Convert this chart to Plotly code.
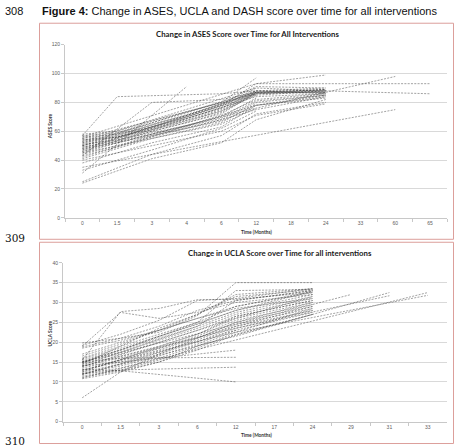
import plotly.graph_objects as go

N = None

# ---------------- data ----------------
ases_categories = ["0", "1.5", "3", "4", "6", "12", "18", "24", "33", "60", "65"]
ases_ticks = [0, 20, 40, 60, 80, 100, 120]
ases_series = [
    [57, 84, N, N, 86, 88, N, N, N, N, N],
    [31, N, N, 91, N, N, N, N, N, N, N],
    [43, N, 80, N, 82, 87, N, N, N, N, N],
    [58, 60, 67, N, 80, 97, N, N, N, N, N],
    [56, N, N, N, N, 93, N, N, N, N, 93],
    [55, 58, 64, N, 78, 93, N, 99, N, N, N],
    [54, 57, 63, 70, 78, 88, N, 90, N, N, N],
    [53, N, N, N, N, 90, N, N, N, N, N],
    [52, 56, 62, 68, 75, 86, N, 89, N, N, N],
    [51, N, N, N, N, 88, N, 88, N, N, 86],
    [50, 55, 61, N, 74, 87, N, 87, N, N, N],
    [49, 54, 60, 66, 73, 86, N, N, N, N, N],
    [48, N, N, N, N, 85, N, 88, N, N, N],
    [47, 53, 60, N, 72, 87, N, 89, N, N, N],
    [46, N, N, N, N, 84, N, 86, N, N, N],
    [45, 52, 58, 64, 70, 83, N, N, N, N, N],
    [44, 50, 57, N, 68, 80, N, 85, N, N, N],
    [42, N, N, N, N, 78, N, 84, N, N, N],
    [41, 48, 55, 60, 65, 76, N, N, N, N, N],
    [40, N, N, N, 60, 71, N, 79, N, N, N],
    [46, N, N, N, N, 76, N, N, N, 98, N],
    [35, N, N, N, N, N, N, N, N, 75, N],
    [25, N, 44, N, 57, 72, N, 80, N, N, N],
    [24, N, 41, N, 52, 68, N, 82, N, N, N],
    [38, 45, 52, N, 63, 78, N, 85, N, N, N],
    [57, 59, 65, 71, 79, 91, N, 90, N, N, N],
    [56, 58, 63, 69, 76, 87, N, 87, N, N, N],
    [55, N, N, N, N, 86, N, 88, N, N, N],
    [54, 56, 61, 67, 74, 85, N, N, N, N, N],
    [53, 56, 62, N, 76, 88, N, 86, N, N, N],
    [52, N, N, N, N, 87, N, 89, N, N, N],
    [51, 54, 59, 64, 71, 82, N, 86, N, N, N],
    [50, N, N, N, N, 86, N, 87, N, N, N],
    [49, 53, 58, N, 69, 81, N, 85, N, N, N],
    [48, 52, 57, 62, 67, 78, N, 83, N, N, N],
    [47, N, N, N, N, 87, N, 88, N, N, N],
    [45, 50, 55, N, 66, 79, N, N, N, N, N],
    [43, 49, 56, 62, 68, 75, N, 84, N, N, N],
    [33, 40, 47, N, 62, 74, N, N, N, N, N],
    [50, 56, 63, N, 77, 90, N, 88, N, N, N],
]

ucla_categories = ["0", "1.5", "3", "6", "12", "17", "24", "29", "31", "33"]
ucla_ticks = [0, 5, 10, 15, 20, 25, 30, 35, 40]
ucla_series = [
    [19.8, 21.0, 22.5, 26.7, 35.0, N, 35.0, N, N, N],
    [15.5, 27.7, 28.5, 30.7, 30.8, N, 32.5, N, N, N],
    [19.2, 22.0, 25.5, 30.5, 31.0, N, 33.5, N, N, N],
    [18.8, 21.0, 24.0, 28.0, 30.5, N, 33.0, N, N, N],
    [18.5, 20.5, 23.0, 26.0, 29.0, N, 32.8, N, N, N],
    [16.5, 19.5, 23.0, 27.0, 31.5, N, 33.2, N, N, N],
    [16.0, 19.0, 22.0, 25.0, 29.0, N, 32.5, N, N, N],
    [15.8, 18.5, 21.5, 24.5, 28.0, N, 32.0, N, N, N],
    [15.5, 18.0, 21.0, 24.0, 27.5, N, 31.5, N, N, N],
    [15.2, 17.5, 20.5, 23.5, 27.0, N, 31.0, N, N, N],
    [15.0, 17.0, 20.0, 23.0, 26.5, N, 30.5, N, N, N],
    [14.8, N, N, N, 28.0, N, 32.8, N, N, N],
    [14.5, 16.5, 19.0, 22.0, 26.0, N, 30.0, N, N, N],
    [14.2, N, N, 24.0, 30.5, N, 33.0, N, N, N],
    [14.0, 16.0, 18.5, 21.5, 25.5, N, 29.5, N, N, N],
    [13.8, N, N, N, 26.0, N, 31.5, N, N, N],
    [13.5, 15.5, 18.0, 21.0, 25.0, N, 29.0, N, N, N],
    [13.0, 15.0, 17.5, 20.5, 24.5, N, 28.5, N, N, N],
    [12.8, N, N, N, 24.0, N, 28.0, N, N, N],
    [12.5, 14.5, 17.0, 20.0, 24.0, N, 29.0, N, N, N],
    [12.2, 14.0, 16.5, 19.5, 23.5, N, 28.0, N, N, N],
    [12.0, 13.5, 16.0, 19.0, 23.0, N, N, N, N, N],
    [11.8, N, N, N, 23.0, N, 27.5, N, N, N],
    [11.5, 13.0, 15.5, 18.5, 22.5, N, 28.5, N, N, N],
    [11.2, 12.8, 15.0, 18.0, 22.0, N, 27.0, N, N, N],
    [11.0, N, N, N, 20.6, N, N, N, N, 32.5],
    [13.0, N, N, N, 22.5, N, N, N, N, 31.8],
    [12.0, N, N, N, 21.5, N, N, N, 32.5, N],
    [14.0, N, N, N, 23.5, N, N, N, 31.7, N],
    [15.0, N, N, N, 24.5, N, N, 32.0, N, N],
    [6.0, 12.5, 17.0, 21.0, 25.0, N, 30.0, N, N, N],
    [13.2, 12.8, N, N, 10.0, N, N, N, N, N],
    [12.0, 13.0, N, N, 13.7, N, N, N, N, N],
    [15.0, 16.0, N, N, 16.2, N, N, N, N, N],
    [14.0, N, N, N, 18.0, N, N, N, N, N],
    [14.5, 19.0, 23.5, 27.0, 32.0, N, 33.5, N, N, N],
    [17.0, 20.0, 23.0, 26.0, 28.5, N, 31.0, N, N, N],
    [12.5, N, N, 22.0, 26.5, N, 30.5, N, N, N],
    [15.0, 18.0, 21.5, 25.0, 33.0, N, 33.3, N, N, N],
    [19.0, 27.5, 26.0, 27.5, 30.0, N, 32.0, N, N, N],
    [10.8, 12.5, 15.0, 19.0, 21.8, N, 27.0, N, N, N],
]

# ---------------- figure ----------------
W, H = 459, 448


def px(x):
    return x / W


def py(y):
    return 1 - y / H


fig = go.Figure()
line_style = dict(color="rgba(55,55,55,0.62)", width=0.75, dash="2px,1.3px")

for s in ases_series:
    fig.add_trace(go.Scatter(x=ases_categories, y=s, mode="lines", line=line_style,
                             connectgaps=True, xaxis="x", yaxis="y",
                             hoverinfo="skip", showlegend=False))
for s in ucla_series:
    fig.add_trace(go.Scatter(x=ucla_categories, y=s, mode="lines", line=line_style,
                             connectgaps=True, xaxis="x2", yaxis="y2",
                             hoverinfo="skip", showlegend=False))

tickfont = dict(family="Liberation Sans, Arial", size=5, color="#606060")
xcommon = dict(type="category", showgrid=False, showline=True, linecolor="#c8c8c8",
               linewidth=1, ticks="outside", tickson="boundaries", ticklen=3,
               tickcolor="#c8c8c8", tickfont=tickfont, zeroline=False, fixedrange=True)
ycommon = dict(showgrid=True, gridcolor="#d9d9d9", gridwidth=1, showline=True,
               linecolor="#c8c8c8", linewidth=1, ticks="outside", ticklen=3,
               tickcolor="#c8c8c8", tickfont=tickfont, zeroline=False, fixedrange=True)

fig.update_layout(
    width=W, height=H,
    margin=dict(l=0, r=0, t=0, b=0),
    paper_bgcolor="white", plot_bgcolor="white",
    xaxis=dict(xcommon, domain=[px(65), px(447.4)], anchor="y",
               categoryorder="array", categoryarray=ases_categories,
               range=[-0.5, len(ases_categories) - 0.5]),
    yaxis=dict(ycommon, domain=[py(217.7), py(42.3)], anchor="x",
               range=[0, 120], tickvals=ases_ticks),
    xaxis2=dict(xcommon, domain=[px(63), px(447)], anchor="y2",
                categoryorder="array", categoryarray=ucla_categories,
                range=[-0.5, len(ucla_categories) - 0.5]),
    yaxis2=dict(ycommon, domain=[py(424.3), py(263.3)], anchor="x2",
                range=[0, 40], tickvals=ucla_ticks),
)

box_color = "#dc9f9b"
fig.add_shape(type="rect", xref="paper", yref="paper",
              x0=px(39.5), x1=px(453.5), y0=py(239.5), y1=py(20.5),
              line=dict(color=box_color, width=1))
fig.add_shape(type="rect", xref="paper", yref="paper",
              x0=px(39.5), x1=px(453.5), y0=py(446.5), y1=py(242.5),
              line=dict(color=box_color, width=1))

ann = []
title_font = dict(family="Lato, Liberation Sans", size=7.8, color="#1a1a1a")
axis_font = dict(family="Lato, Liberation Sans", size=4.8, color="#333333")
ann.append(dict(x=px(247), y=py(31), text="<b>Change in ASES Score over Time for All Interventions</b>",
                font=title_font))
ann.append(dict(x=px(280), y=py(253), text="<b>Change in UCLA Score over Time for all interventions</b>",
                font=title_font))
ann.append(dict(x=px(257), y=py(231.7), text="<b>Time (Months)</b>", font=axis_font))
ann.append(dict(x=px(257), y=py(437.5), text="<b>Time (Months)</b>", font=axis_font))
ann.append(dict(x=px(50), y=py(125), text="<b>ASES Score</b>", font=axis_font, textangle=-90))
ann.append(dict(x=px(50), y=py(335), text="<b>UCLA Score</b>", font=axis_font, textangle=-90))

cap_font = dict(family="Liberation Sans, Arial", size=11, color="#111111")
ann.append(dict(x=px(2.5), y=py(8.5), text="308", font=cap_font, xanchor="left"))
ann.append(dict(x=px(40), y=py(8.5),
                text="<b>Figure 4:</b> Change in ASES, UCLA and DASH score over time for all interventions",
                font=cap_font, xanchor="left"))
serif_font = dict(family="DejaVu Serif, Liberation Serif", size=10.5, color="#111111")
ann.append(dict(x=px(2.5), y=py(238.5), text="309", font=serif_font, xanchor="left"))
ann.append(dict(x=px(2.5), y=py(443.5), text="310", font=serif_font, xanchor="left"))

for a in ann:
    a.setdefault("xanchor", "center")
    a.update(xref="paper", yref="paper", showarrow=False, yanchor="middle")
    fig.add_annotation(**a)

fig.write_html("out.html")
